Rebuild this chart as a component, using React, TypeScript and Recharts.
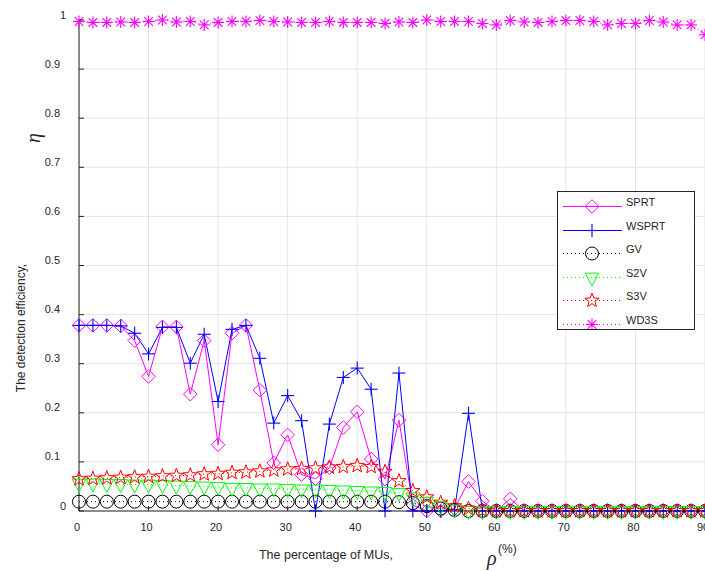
import React from 'react';
import { LineChart, Line, XAxis, YAxis, CartesianGrid, Legend } from 'recharts';

const xValues = [
  0, 2, 4, 6, 8, 10, 12, 14, 16, 18, 20, 22, 24, 26, 28, 30, 32, 34, 36, 38, 40, 42, 44,
  46, 48, 50, 52, 54, 56, 58, 60, 62, 64, 66, 68, 70, 72, 74, 76, 78, 80, 82, 84, 86, 88, 90,
];

const sprt = [
  0.378, 0.378, 0.378, 0.377, 0.347, 0.274, 0.375, 0.375, 0.238, 0.347, 0.135, 0.362, 0.378,
  0.246, 0.098, 0.155, 0.074, 0.066, 0.088, 0.17, 0.202, 0.106, 0.065, 0.185, 0.012, 0, 0,
  0.005, 0.06, 0.02, 0, 0.025, 0, 0, 0, 0, 0, 0, 0, 0, 0, 0, 0, 0, 0, 0,
];

const wsprt = [
  0.378, 0.378, 0.378, 0.377, 0.362, 0.32, 0.374, 0.374, 0.301, 0.36, 0.223, 0.37, 0.378,
  0.311, 0.179, 0.235, 0.184, 0, 0.177, 0.272, 0.291, 0.248, 0, 0.281, 0, 0, 0, 0.003,
  0.199, 0, 0, 0, 0, 0, 0, 0, 0, 0, 0, 0, 0, 0, 0, 0, 0, 0,
];

const gv = [
  0.019, 0.019, 0.019, 0.019, 0.019, 0.019, 0.019, 0.019, 0.019, 0.019, 0.019, 0.019, 0.019,
  0.019, 0.019, 0.019, 0.019, 0.019, 0.019, 0.019, 0.019, 0.019, 0.019, 0.018, 0.016, 0.01,
  0.005, 0.002, 0, 0, 0, 0, 0, 0, 0, 0, 0, 0, 0, 0, 0, 0, 0, 0, 0, 0,
];

const s2v = [
  0.056, 0.056, 0.055, 0.055, 0.054, 0.054, 0.053, 0.052, 0.051, 0.05, 0.049, 0.047, 0.047,
  0.046, 0.046, 0.045, 0.044, 0.044, 0.043, 0.042, 0.041, 0.04, 0.039, 0.037, 0.028, 0.019,
  0.01, 0.003, 0, 0, 0, 0, 0, 0, 0, 0, 0, 0, 0, 0, 0, 0, 0, 0, 0, 0,
];

const s3v = [
  0.065, 0.066, 0.067, 0.068, 0.069, 0.07, 0.071, 0.072, 0.073, 0.075, 0.076, 0.078, 0.079,
  0.081, 0.083, 0.085, 0.086, 0.087, 0.089, 0.09, 0.092, 0.09, 0.08, 0.061, 0.041, 0.028,
  0.017, 0.01, 0.005, 0.001, 0, 0, 0, 0, 0, 0, 0, 0, 0, 0, 0, 0, 0, 0, 0, 0,
];

const wd3s = [
  0.997, 0.995, 0.995, 0.996, 0.995, 0.997, 1.0, 0.996, 0.997, 0.99, 0.995, 0.997, 0.997,
  0.999, 0.997, 0.996, 0.995, 0.995, 0.997, 0.995, 0.995, 0.995, 0.993, 0.996, 0.995, 1.0,
  0.997, 0.997, 0.997, 0.993, 0.99, 0.999, 0.996, 0.995, 0.997, 0.999, 0.999, 0.997, 0.99,
  0.993, 0.993, 0.999, 0.996, 0.99, 0.99, 0.97,
];

const xTicks = [0, 10, 20, 30, 40, 50, 60, 70, 80, 90];
const yTicks = [0, 0.1, 0.2, 0.3, 0.4, 0.5, 0.6, 0.7, 0.8, 0.9, 1];

const data = xValues.map((x, i) => ({
  x,
  sprt: sprt[i],
  wsprt: wsprt[i],
  gv: gv[i],
  s2v: s2v[i],
  s3v: s3v[i],
  wd3s: wd3s[i],
}));

const MAGENTA = '#ff00ff';
const BLUE = '#0000ff';
const GREEN = '#00ff00';
const RED = '#ff0000';
const INK = '#262626';
const FONT = 'Liberation Sans, Arial, sans-serif';

const Diamond = ({ cx, cy }: any) => (
  <polygon
    points={`${cx},${cy - 6.8} ${cx + 6.8},${cy} ${cx},${cy + 6.8} ${cx - 6.8},${cy}`}
    fill="none"
    stroke={MAGENTA}
    strokeWidth={1}
  />
);

const Plus = ({ cx, cy }: any) => (
  <g stroke={BLUE} strokeWidth={1.1}>
    <line x1={cx - 6.5} y1={cy} x2={cx + 6.5} y2={cy} />
    <line x1={cx} y1={cy - 6.5} x2={cx} y2={cy + 6.5} />
  </g>
);

const Ring = ({ cx, cy }: any) => (
  <circle cx={cx} cy={cy} r={6.5} fill="none" stroke="#000" strokeWidth={1} />
);

const TriDown = ({ cx, cy }: any) => (
  <polygon
    points={`${cx - 6.8},${cy - 4.4} ${cx + 6.8},${cy - 4.4} ${cx},${cy + 8.4}`}
    fill="none"
    stroke={GREEN}
    strokeWidth={1}
  />
);

const Star = ({ cx, cy }: any) => {
  const pts: string[] = [];
  for (let k = 0; k < 10; k++) {
    const r = k % 2 === 0 ? 7.5 : 3.1;
    const a = -Math.PI / 2 + (k * Math.PI) / 5;
    pts.push(`${cx + r * Math.cos(a)},${cy + r * Math.sin(a)}`);
  }
  return <polygon points={pts.join(' ')} fill="none" stroke={RED} strokeWidth={1} />;
};

const Asterisk = ({ cx, cy }: any) => (
  <g stroke={MAGENTA} strokeWidth={1.1}>
    <line x1={cx - 6} y1={cy} x2={cx + 6} y2={cy} />
    <line x1={cx} y1={cy - 6} x2={cx} y2={cy + 6} />
    <line x1={cx - 4.3} y1={cy - 4.3} x2={cx + 4.3} y2={cy + 4.3} />
    <line x1={cx - 4.3} y1={cy + 4.3} x2={cx + 4.3} y2={cy - 4.3} />
    <circle cx={cx} cy={cy} r={1.4} fill={MAGENTA} stroke="none" />
  </g>
);

const dotOf = (Marker: any, name: string) => (p: any) => (
  <Marker key={`${name}-${p.index}`} cx={p.cx} cy={p.cy} />
);

const XTick = ({ x, y, payload }: any) => (
  <g>
    <line x1={x} y1={y} x2={x} y2={y - 5} stroke={INK} />
    <text x={x - 2} y={y + 20} textAnchor="middle" fontSize={11} fontFamily={FONT} fill={INK}>
      {payload.value}
    </text>
  </g>
);

const YTick = ({ x, y, payload }: any) => {
  const whole = payload.value === 0 || payload.value === 1;
  return (
    <g>
      <line x1={x} y1={y} x2={x + 5} y2={y} stroke={INK} />
      <text
        x={whole ? x - 13 : x - 19}
        y={y - 1.5}
        textAnchor="end"
        fontSize={11}
        fontFamily={FONT}
        fill={INK}
      >
        {whole ? payload.value : payload.value.toFixed(1)}
      </text>
    </g>
  );
};

const legendItems = [
  { label: 'SPRT', color: MAGENTA, dash: undefined, Marker: Diamond },
  { label: 'WSPRT', color: BLUE, dash: undefined, Marker: Plus },
  { label: 'GV', color: '#000000', dash: '1 3', Marker: Ring },
  { label: 'S2V', color: GREEN, dash: '1 3', Marker: TriDown },
  { label: 'S3V', color: RED, dash: '1 3', Marker: Star },
  { label: 'WD3S', color: MAGENTA, dash: '1 3', Marker: Asterisk },
];

const LegendBox = () => (
  <div
    style={{
      width: 138,
      height: 139,
      border: `1px solid ${INK}`,
      background: '#fff',
      boxSizing: 'border-box',
    }}
  >
    <svg width={136} height={137} style={{ display: 'block' }}>
      {legendItems.map((it, i) => {
        const ly = Math.round(14 + 23.6 * i) + 0.5;
        const M = it.Marker;
        return (
          <g key={it.label}>
            <line
              x1={5}
              y1={ly}
              x2={64}
              y2={ly}
              style={{ stroke: it.color }}
              strokeWidth={1}
              strokeDasharray={it.dash}
            />
            <M cx={34} cy={ly} />
            <text x={68} y={ly - 1} fontSize={11} fontFamily={FONT} fill={INK}>
              {it.label}
            </text>
          </g>
        );
      })}
    </svg>
  </div>
);

export default function App() {
  return (
    <div
      style={{
        position: 'fixed',
        left: 0,
        top: 0,
        width: 705,
        height: 571,
        overflow: 'hidden',
        background: '#fff',
      }}
    >
      <LineChart width={720} height={571} data={data} margin={{ top: 20, right: 15, left: 0, bottom: 0 }}>
        <CartesianGrid stroke="#e3e3e3" strokeWidth={1} />
        <XAxis
          dataKey="x"
          type="number"
          domain={[0, 90]}
          ticks={xTicks}
          height={60}
          tickSize={0}
          tickMargin={0}
          tickLine={false}
          axisLine={{ stroke: INK }}
          tick={<XTick />}
          interval={0}
        />
        <YAxis
          type="number"
          domain={[0, 1]}
          ticks={yTicks}
          width={79}
          tickSize={0}
          tickMargin={0}
          tickLine={false}
          axisLine={{ stroke: INK }}
          tick={<YTick />}
          interval={0}
        />
        <Legend
          layout="vertical"
          align="center"
          verticalAlign="middle"
          content={() => <LegendBox />}
          wrapperStyle={{ position: 'absolute', left: 557, top: 191, width: 138, height: 139 }}
        />
        <Line dataKey="sprt" name="SPRT" stroke={MAGENTA} strokeWidth={1} dot={dotOf(Diamond, 'sprt')} isAnimationActive={false} />
        <Line dataKey="wsprt" name="WSPRT" stroke={BLUE} strokeWidth={1} dot={dotOf(Plus, 'wsprt')} isAnimationActive={false} />
        <Line dataKey="gv" name="GV" stroke="#000" strokeDasharray="1 3" strokeWidth={1} dot={dotOf(Ring, 'gv')} isAnimationActive={false} />
        <Line dataKey="s2v" name="S2V" stroke={GREEN} strokeDasharray="1 3" strokeWidth={1} dot={dotOf(TriDown, 's2v')} isAnimationActive={false} />
        <Line dataKey="s3v" name="S3V" stroke={RED} strokeDasharray="1 3" strokeWidth={1} dot={dotOf(Star, 's3v')} isAnimationActive={false} />
        <Line dataKey="wd3s" name="WD3S" stroke={MAGENTA} strokeDasharray="1 3" strokeWidth={1} dot={dotOf(Asterisk, 'wd3s')} isAnimationActive={false} />
      </LineChart>
      <svg
        width={705}
        height={571}
        style={{ position: 'absolute', left: 0, top: 0, pointerEvents: 'none' }}
      >
        <text x={326} y={559} textAnchor="middle" fontSize={12.5} fontFamily={FONT} fill={INK}>
          The percentage of MUs,
        </text>
        <text x={487} y={565} fontSize={20} fontStyle="italic" fontFamily="Liberation Serif, serif" fill={INK}>
          ρ
        </text>
        <text x={498} y={553} fontSize={12} fontFamily={FONT} fill={INK}>
          (%)
        </text>
        <text
          x={21}
          y={328}
          transform="rotate(-90, 21, 328)"
          textAnchor="middle"
          dominantBaseline="central"
          fontSize={12}
          fontFamily={FONT}
          fill={INK}
        >
          The detection efficiency,
        </text>
        <text
          x={33}
          y={138}
          transform="rotate(-90, 33, 138)"
          textAnchor="middle"
          dominantBaseline="central"
          fontSize={20}
          fontStyle="italic"
          fontFamily="Liberation Serif, serif"
          fill={INK}
        >
          η
        </text>
      </svg>
    </div>
  );
}
